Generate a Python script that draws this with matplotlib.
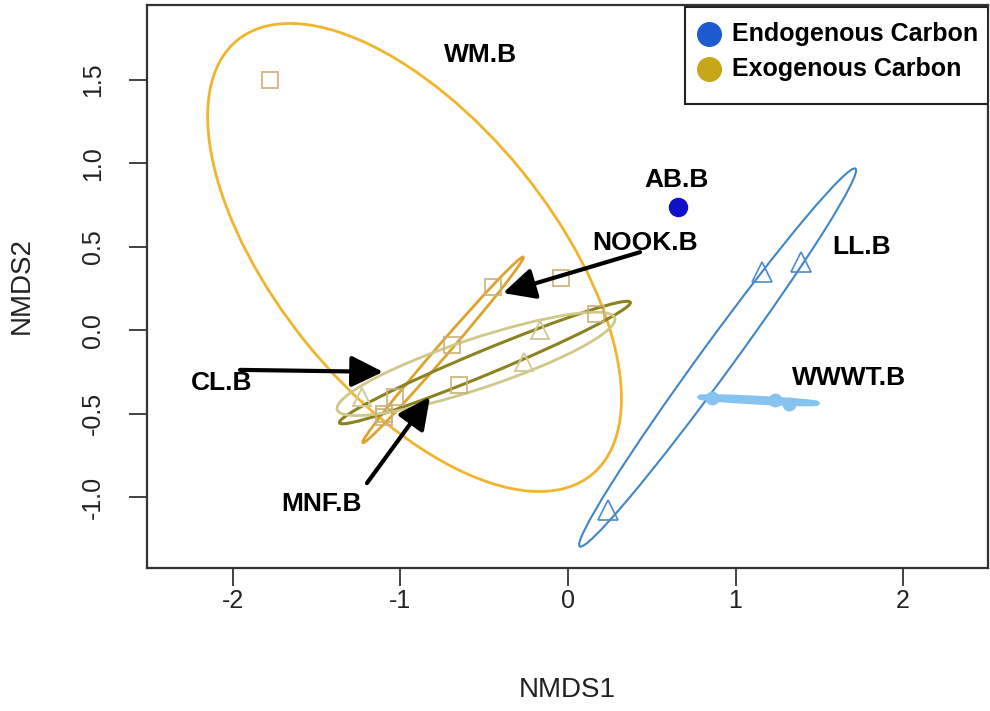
import matplotlib
matplotlib.use("Agg")
import matplotlib.pyplot as plt
from matplotlib.patches import Ellipse, Rectangle

plt.rcParams['font.family'] = ['Liberation Sans', 'DejaVu Sans']

# ---- site scores (NMDS1, NMDS2) per group ----
wm_x = [-1.78, -0.04, -1.10]
wm_y = [1.50, 0.31, -0.50]
nook_x = [-0.45, -0.69, -1.10]
nook_y = [0.26, -0.09, -0.52]
mnf_x = [0.17, -0.65, -1.03]
mnf_y = [0.10, -0.33, -0.40]
cl_x = [-0.17, -0.26, -1.23]
cl_y = [0.00, -0.19, -0.40]
ll_x = [1.16, 1.39, 0.24]
ll_y = [0.35, 0.41, -1.08]
wwwt_x = [0.86, 1.236, 1.319]
wwwt_y = [-0.405, -0.418, -0.442]
ab_x = [0.657]
ab_y = [0.738]

# ---- group dispersion ellipses: centre, semi-axes, rotation (deg) ----
ell_names = ["WM.B", "NOOK.B", "MNF.B", "CL.B", "LL.B", "WWWT.B"]
ell_cx = [-0.916, -0.746, -0.496, -0.549, 0.893, 1.137]
ell_cy = [0.436, -0.118, -0.194, -0.202, -0.164, -0.420]
ell_a = [1.678, 0.734, 0.940, 0.873, 1.400, 0.350]
ell_b = [0.824, 0.036, 0.072, 0.150, 0.096, 0.012]
ell_angle = [-51.0, 49.3, 22.6, 18.4, 54.0, -3.0]

# ---- group labels ----
lab_text = ["WM.B", "AB.B", "NOOK.B", "LL.B", "WWWT.B", "CL.B", "MNF.B"]
lab_x = [-0.52, 0.65, 0.46, 1.75, 1.68, -2.07, -1.47]
lab_y = [1.65, 0.90, 0.52, 0.50, -0.287, -0.316, -1.042]

# ---- pointer arrows (tail -> head) ----
arr_tail_x = [0.43, -1.958, -1.20]
arr_tail_y = [0.468, -0.238, -0.917]
arr_head_x = [-0.388, -1.104, -0.824]
arr_head_y = [0.223, -0.250, -0.400]

legend_labels = ["Endogenous Carbon", "Exogenous Carbon"]
legend_colors = ["#1E5BD0", "#C6A718"]

ell_colors = {"WM.B": "#F2B42C", "NOOK.B": "#DDA32C", "MNF.B": "#8C8222",
              "CL.B": "#CFC889", "LL.B": "#3F86C9", "WWWT.B": "#86C3EE"}
ell_lw = {"WM.B": 2.0, "NOOK.B": 2.0, "MNF.B": 2.2, "CL.B": 2.0,
          "LL.B": 1.5, "WWWT.B": 3.5}

fig = plt.figure(figsize=(9.9, 7.11), dpi=100)
ax = fig.add_axes([147 / 990, (711 - 568) / 711, 841 / 990, 563 / 711])
ax.set_xlim(-2.513, 2.507)
ax.set_ylim(-1.426, 1.950)

for name, cx, cy, a, b, ang in zip(ell_names, ell_cx, ell_cy, ell_a, ell_b, ell_angle):
    ax.add_patch(Ellipse((cx, cy), 2 * a, 2 * b, angle=ang, fill=False,
                         edgecolor=ell_colors[name], lw=ell_lw[name], zorder=2))

sq_color = "#C9B078"
for xs, ys in [(wm_x, wm_y), (nook_x, nook_y), (mnf_x, mnf_y)]:
    ax.plot(xs, ys, ls="none", marker="s", ms=11, mfc="none", mec=sq_color,
            mew=1.4, alpha=0.85, zorder=3)
ax.plot(cl_x, cl_y, ls="none", marker="^", ms=13, mfc="none", mec="#D2CB98",
        mew=1.4, zorder=3)
ax.plot(ll_x, ll_y, ls="none", marker="^", ms=14, mfc="none", mec="#4C8ACB",
        mew=1.2, zorder=3)
ax.plot(wwwt_x, wwwt_y, ls="none", marker="o", ms=9, color="#86C3EE", zorder=3)
ax.plot(ab_x, ab_y, ls="none", marker="o", ms=13, color="#1010C8", zorder=3)

for tx, ty, hx, hy in zip(arr_tail_x, arr_tail_y, arr_head_x, arr_head_y):
    ax.annotate("", xy=(hx, hy), xytext=(tx, ty),
                arrowprops=dict(arrowstyle="-|>,head_length=0.65,head_width=0.32",
                                lw=3, color="black", mutation_scale=30,
                                shrinkA=0, shrinkB=0), zorder=4)

for t, x, y in zip(lab_text, lab_x, lab_y):
    ax.text(x, y, t, fontsize=19, fontweight="bold", ha="center", va="center",
            color="black", zorder=5)

# legend box in the top-right corner (axes fractions)
ax.add_patch(Rectangle((0.6397, 0.8242), 0.3603, 0.1723, transform=ax.transAxes,
                       facecolor="white", edgecolor="#222222", lw=1.5, zorder=6))
for i, (lab, col) in enumerate(zip(legend_labels, legend_colors)):
    yy = 0.9485 - i * 0.0622
    ax.plot([0.6683], [yy], ls="none", marker="o", ms=17, color=col,
            transform=ax.transAxes, zorder=7, clip_on=False)
    ax.text(0.6956, yy, lab, transform=ax.transAxes, fontsize=18,
            fontweight="bold", ha="left", va="center", color="black", zorder=7)

ax.set_xticks([-2, -1, 0, 1, 2])
ax.set_xticklabels(["-2", "-1", "0", "1", "2"])
ax.set_yticks([-1.0, -0.5, 0.0, 0.5, 1.0, 1.5])
ax.set_yticklabels(["-1.0", "-0.5", "0.0", "0.5", "1.0", "1.5"], rotation=90,
                   va="center")
ax.tick_params(axis="both", direction="out", length=13, width=1.2,
               labelsize=18, colors="#222222", labelcolor="#222222")
ax.tick_params(axis="x", pad=2)
ax.tick_params(axis="y", pad=17)
for s in ax.spines.values():
    s.set_linewidth(1.6)
    s.set_color("#333333")

fig.text(567 / 990, 1 - 690 / 711, "NMDS1", fontsize=20, ha="center",
         va="center", color="#222222")
fig.text(22 / 990, 1 - 286 / 711, "NMDS2", fontsize=20, ha="center",
         va="center", rotation=90, color="#222222")

fig.savefig("out.png", dpi=100)
